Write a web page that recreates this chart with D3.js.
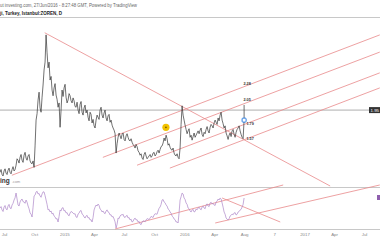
<!DOCTYPE html>
<html>
<head>
<meta charset="utf-8">
<script src="https://cdn.jsdelivr.net/npm/d3@7"></script>
<style>
  body { margin: 0; background: #fff; }
  svg { display: block; font-family: Arial, "Liberation Sans", sans-serif; }
</style>
</head>
<body>
<svg width="380" height="240"></svg>
<script>
const svg = d3.select("svg");
const width = +svg.attr("width");
const height = +svg.attr("height");
const parse = d3.timeParse("%Y-%m-%d");

// daily closes, sampled about every 3 days from 19 Jun 2014
const startDate = parse("2014-06-19");
const stepDays = 3.045;
const closes = [
  1.08, 1.12, 1.05, 1.03, 1.10, 1.13, 1.07, 1.05, 1.11, 1.14, 1.08, 1.06, 1.12, 1.16, 1.10, 1.12,
  1.18, 1.27, 1.25, 1.21, 1.29, 1.33, 1.25, 1.22, 1.32, 1.36, 1.28, 1.25, 1.31, 1.33, 1.24, 1.21,
  1.20, 1.24, 1.15, 1.45, 1.81, 1.90, 2.09, 2.20, 1.98, 1.92, 2.13, 2.30, 2.51, 2.62, 3.00, 2.75,
  2.54, 2.62, 2.37, 2.42, 2.23, 2.15, 2.26, 2.32, 2.16, 2.10, 1.99, 2.05, 1.71, 1.95, 2.23, 2.14,
  2.26, 2.31, 2.13, 2.05, 2.09, 2.18, 2.15, 2.08, 2.05, 2.12, 2.08, 2.00, 1.99, 2.06, 1.95, 1.90,
  2.03, 2.07, 1.92, 1.88, 1.98, 2.02, 1.91, 1.95, 1.85, 1.80, 1.92, 1.89, 1.77, 1.82, 1.73, 1.70,
  1.81, 1.88, 1.85, 1.82, 1.95, 1.99, 1.88, 1.84, 1.91, 1.95, 1.84, 1.80, 1.87, 1.89, 1.78, 1.81,
  1.74, 1.70, 1.67, 1.62, 1.35, 1.48, 1.57, 1.63, 1.59, 1.55, 1.61, 1.63, 1.54, 1.52, 1.59, 1.62,
  1.57, 1.53, 1.52, 1.55, 1.50, 1.47, 1.45, 1.42, 1.47, 1.44, 1.38, 1.36, 1.32, 1.34, 1.28, 1.26,
  1.33, 1.36, 1.31, 1.27, 1.29, 1.31, 1.33, 1.29, 1.31, 1.35, 1.36, 1.31, 1.33, 1.37, 1.39, 1.35,
  1.40, 1.44, 1.45, 1.49, 1.56, 1.52, 1.60, 1.55, 1.46, 1.48, 1.43, 1.40, 1.39, 1.42, 1.35, 1.32,
  1.31, 1.34, 1.29, 1.27, 1.42, 1.75, 2.01, 1.88, 1.81, 1.74, 1.68, 1.62, 1.66, 1.69, 1.57, 1.60,
  1.53, 1.58, 1.63, 1.57, 1.60, 1.63, 1.66, 1.62, 1.67, 1.70, 1.61, 1.58, 1.64, 1.62, 1.68, 1.72,
  1.66, 1.63, 1.71, 1.75, 1.73, 1.70, 1.77, 1.81, 1.78, 1.75, 1.84, 1.80, 1.88, 1.92, 1.81, 1.76,
  1.70, 1.73, 1.63, 1.59, 1.54, 1.60, 1.63, 1.58, 1.66, 1.68, 1.61, 1.57, 1.64, 1.68, 1.70, 1.73,
  1.66, 1.61, 1.57, 1.55, 1.81
];
const rsi = [
  53.4, 56, 49.8, 47, 55.2, 58, 51.6, 50, 57.1, 60, 53.4, 52, 58.9, 62, 68.0, 72,
  80.8, 70, 58.9, 57, 64.4, 68, 69.9, 65, 64.4, 62, 68.0, 64, 57.1, 52, 44.3, 42,
  37.0, 55, 75.4, 77, 82.7, 84, 79.0, 80, 75.4, 73, 79.0, 83, 82.7, 76, 68.0, 60,
  49.8, 51, 46.1, 48, 42.4, 44, 38.8, 37, 33.3, 34, 27.8, 38, 49.8, 48, 53.4, 54,
  47.9, 49, 44.3, 45, 40.6, 39, 44.3, 47, 46.1, 44, 42.4, 43, 37.0, 36, 42.4, 44,
  47.9, 49, 42.4, 41, 37.0, 35, 38.8, 40, 35.1, 36, 31.5, 32, 27.8, 36, 49.8, 55,
  58.9, 57, 60.7, 58, 51.6, 50, 46.1, 48, 44.3, 43, 47.9, 50, 46.1, 45, 40.6, 41,
  37.0, 38, 33.3, 28, 16.8, 24, 35.1, 34, 38.8, 41, 40.6, 42, 37.0, 36, 38.8, 40,
  35.1, 36, 31.5, 33, 27.8, 29, 33.3, 35, 31.5, 32, 27.8, 29, 24.1, 23, 27.8, 30,
  29.6, 28, 31.5, 34, 33.3, 32, 35.1, 38, 37.0, 36, 40.6, 43, 42.4, 42, 47.9, 53,
  55.2, 60, 68.0, 69, 64.4, 63, 58.9, 57, 51.6, 50, 46.1, 44, 38.8, 37, 33.3, 32,
  27.8, 28, 26.0, 45, 68.0, 74, 80.8, 79, 71.7, 69, 62.6, 60, 53.4, 52, 47.9, 46,
  49.8, 51, 46.1, 47, 51.6, 50, 53.4, 55, 51.6, 50, 55.2, 57, 53.4, 52, 58.9, 61,
  57.1, 56, 62.6, 64, 60.7, 62, 58.9, 58, 64.4, 66, 69.9, 68, 71.7, 70, 62.6, 55,
  46.1, 42, 35.1, 33, 31.5, 34, 38.8, 40, 42.4, 41, 44.3, 45, 40.6, 42, 46.1, 47,
  49.8, 51, 55.2, 60, 71.7
];

const tickDates = ["2014-07-01", "2014-10-01", "2015-01-01", "2015-04-01", "2015-07-01", "2015-10-01",
  "2016-01-01", "2016-04-01", "2016-07-01", "2016-10-01", "2017-01-01", "2017-04-01", "2017-07-01"];
const tickLabels = ["Jul", "Oct", "2015", "Apr", "Jul", "Oct", "2016", "Apr", "Aug", "7", "2017", "Apr", "Jul"];

// drawn trend lines: [date, value] pairs
const priceLines = [
  [["2014-11-02", 3.03], ["2017-03-20", 0.89]],
  [["2014-07-25", 1.04], ["2017-08-18", 3.00]],
  [["2015-04-28", 1.29], ["2017-08-18", 2.76]],
  [["2015-08-10", 1.18], ["2017-08-18", 2.47]],
  [["2015-11-18", 1.14], ["2017-08-18", 2.26]]
];
const rsiLines = [
  [["2015-06-04", 15.0], ["2016-10-28", 95.5]],
  [["2016-04-04", 26.0], ["2017-08-18", 95.5]],
  [["2016-04-25", 71.7], ["2016-10-19", 27.8]]
];
const levelLabels = ["2.28", "2.05", "1.79", "1.57"];
const levelValues = [2.28, 2.05, 1.79, 1.57];
const hLine = 1.95;
const noteDate = "2015-11-06";
const notePrice = 1.71;

const dates = closes.map((_, i) => new Date(startDate.getTime() + i * stepDays * 864e5));

const x = d3.scaleTime()
  .domain([parse("2014-07-01"), parse("2017-07-01")])
  .range([4, 364]);
const y = d3.scaleLinear().domain([0.89, 3.25]).range([186, 17]);
const yr = d3.scaleLinear().domain([15, 90]).range([229, 188]);

const red = "#e8898a";

// header
svg.append("text")
  .attr("x", 0).attr("y", 7)
  .attr("font-size", 4.6).attr("fill", "#666")
  .attr("textLength", 137).attr("lengthAdjust", "spacingAndGlyphs")
  .text("ut investing.com, 27/Jun/2016 - 8:27:48 GMT, Powered by TradingView");
svg.append("text")
  .attr("x", 0).attr("y", 15)
  .attr("font-size", 5).attr("font-weight", "bold").attr("fill", "#222")
  .attr("textLength", 62).attr("lengthAdjust", "spacingAndGlyphs")
  .text("ji, Turkey, Istanbul:ZOREN, D");

// pane separators
[17.5, 187.5, 229.5].forEach(sy => {
  svg.append("line")
    .attr("x1", 0).attr("x2", width)
    .attr("y1", sy).attr("y2", sy)
    .attr("stroke", "#c8c8c8").attr("stroke-width", 1);
});

// watermark
svg.append("text").attr("x", 0).attr("y", 183)
  .attr("font-size", 6.5).attr("font-weight", "bold").attr("fill", "#333").text("ing");
svg.append("text").attr("x", 12).attr("y", 183)
  .attr("font-size", 3.8).attr("fill", "#999").text(".com");

// horizontal level line + price tag
svg.append("line")
  .attr("x1", 0).attr("x2", width)
  .attr("y1", y(hLine)).attr("y2", y(hLine))
  .attr("stroke", "#9a9a9a").attr("stroke-width", 0.8);
svg.append("rect")
  .attr("x", 369).attr("y", y(hLine) - 3)
  .attr("width", 12).attr("height", 6)
  .attr("fill", "#333");
svg.append("text")
  .attr("x", 370.5).attr("y", y(hLine) + 1.7)
  .attr("font-size", 4.4).attr("fill", "#fff")
  .text(d3.format(".2f")(hLine));

// trend lines in price pane
const seg = (p, sx, sy) => [sx(parse(p[0])), sy(p[1])];
priceLines.forEach(l => {
  const a = seg(l[0], x, y), b = seg(l[1], x, y);
  svg.append("line")
    .attr("x1", a[0]).attr("y1", a[1]).attr("x2", b[0]).attr("y2", b[1])
    .attr("stroke", red).attr("stroke-width", 0.8);
});

// price series
const priceLine = d3.line().x((d, i) => x(dates[i])).y(d => y(d));
svg.append("path")
  .datum(closes)
  .attr("d", priceLine)
  .attr("fill", "none")
  .attr("stroke", "#333")
  .attr("stroke-width", 0.7);

// level labels and marker on the last bar
const lastDate = dates[dates.length - 1];
const lastClose = closes[closes.length - 1];
svg.append("line")
  .attr("x1", x(lastDate)).attr("x2", x(lastDate))
  .attr("y1", y(levelValues[1]) + 2).attr("y2", y(lastClose))
  .attr("stroke", "#333").attr("stroke-width", 0.7);
svg.selectAll(".lvl")
  .data(levelValues)
  .enter().append("text")
  .attr("class", "lvl")
  .attr("x", (d, i) => x(lastDate) + (i < 2 ? 3 : 6))
  .attr("y", (d, i) => y(d) + (i < 2 ? -1.5 : 3))
  .attr("text-anchor", "middle")
  .attr("font-size", 3.8).attr("font-weight", "bold").attr("fill", "#333")
  .text((d, i) => levelLabels[i]);
svg.append("rect")
  .attr("x", x(lastDate) - 2).attr("y", y(lastClose) - 2)
  .attr("width", 4).attr("height", 4).attr("rx", 0.8)
  .attr("fill", "#fff").attr("stroke", "#2a7de1").attr("stroke-width", 1);

// note marker
svg.append("circle")
  .attr("cx", x(parse(noteDate))).attr("cy", y(notePrice))
  .attr("r", 3.6).attr("fill", "#f2c200");
svg.append("circle")
  .attr("cx", x(parse(noteDate))).attr("cy", y(notePrice))
  .attr("r", 0.9).attr("fill", "#7a5a00");

// RSI pane
rsiLines.forEach(l => {
  const a = seg(l[0], x, yr), b = seg(l[1], x, yr);
  svg.append("line")
    .attr("x1", a[0]).attr("y1", a[1]).attr("x2", b[0]).attr("y2", b[1])
    .attr("stroke", red).attr("stroke-width", 0.8);
});
svg.append("path")
  .datum(rsi)
  .attr("d", d3.line().x((d, i) => x(dates[i])).y(d => yr(d)))
  .attr("fill", "none")
  .attr("stroke", "#ad86c8")
  .attr("stroke-width", 0.7);
svg.append("rect")
  .attr("x", 377).attr("y", 195)
  .attr("width", 4).attr("height", 5)
  .attr("fill", "#8f5fae");

// time axis
const xAxis = d3.axisBottom(x)
  .tickValues(tickDates.map(parse))
  .tickFormat((d, i) => tickLabels[i])
  .tickSize(0)
  .tickPadding(0);
const ax = svg.append("g")
  .attr("transform", "translate(0,233)")
  .call(xAxis);
ax.select(".domain").remove();
ax.selectAll("text")
  .attr("font-size", 4.4)
  .attr("font-family", "Arial, sans-serif")
  .attr("fill", "#888");
</script>
</body>
</html>
